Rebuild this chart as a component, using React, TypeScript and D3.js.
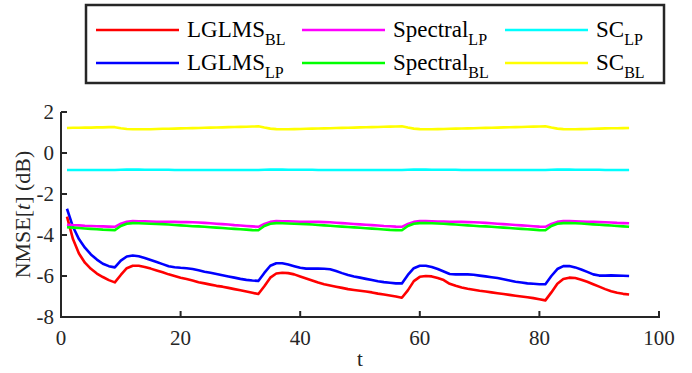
import * as d3 from 'd3'

// time steps and NMSE curves (dB)
const steps = d3.range(1, 96)

const lglmsBL = [
  -3.10, -4.20, -4.90, -5.35, -5.65, -5.88, -6.05, -6.20, -6.31, -5.95,
  -5.62, -5.50, -5.50, -5.56, -5.64, -5.73, -5.82, -5.92, -6.00, -6.08,
  -6.15, -6.22, -6.30, -6.36, -6.42, -6.48, -6.52, -6.58, -6.64, -6.70,
  -6.76, -6.82, -6.88, -6.50, -6.08, -5.88, -5.84, -5.86, -5.92, -6.02,
  -6.12, -6.22, -6.32, -6.40, -6.46, -6.52, -6.58, -6.64, -6.68, -6.72,
  -6.76, -6.80, -6.86, -6.90, -6.95, -7.00, -7.06, -6.70, -6.25, -6.04,
  -6.00, -6.02, -6.10, -6.20, -6.38, -6.48, -6.56, -6.62, -6.67, -6.72,
  -6.76, -6.80, -6.84, -6.88, -6.92, -6.96, -7.00, -7.04, -7.08, -7.13,
  -7.19, -6.80, -6.38, -6.15, -6.08, -6.10, -6.18, -6.28, -6.40, -6.52,
  -6.64, -6.74, -6.82, -6.87, -6.90,
]

const lglmsLP = [
  -2.72, -3.60, -4.20, -4.62, -4.95, -5.20, -5.40, -5.52, -5.58, -5.25,
  -5.05, -5.00, -5.04, -5.12, -5.22, -5.32, -5.42, -5.52, -5.57, -5.60,
  -5.62, -5.66, -5.72, -5.79, -5.84, -5.90, -5.96, -6.02, -6.08, -6.14,
  -6.19, -6.22, -6.24, -5.85, -5.50, -5.38, -5.38, -5.44, -5.52, -5.60,
  -5.64, -5.64, -5.64, -5.65, -5.67, -5.76, -5.86, -5.95, -6.02, -6.08,
  -6.14, -6.20, -6.26, -6.30, -6.33, -6.36, -6.36, -5.95, -5.62, -5.50,
  -5.50, -5.56, -5.66, -5.78, -5.90, -5.92, -5.92, -5.92, -5.94, -5.98,
  -6.02, -6.06, -6.10, -6.16, -6.22, -6.28, -6.32, -6.36, -6.38, -6.40,
  -6.40, -6.00, -5.66, -5.52, -5.51, -5.58, -5.68, -5.80, -5.92, -5.98,
  -5.98, -5.97, -5.98, -5.99, -6.00,
]

const spectralLP = [
  -3.50, -3.52, -3.53, -3.55, -3.56, -3.57, -3.58, -3.59, -3.60, -3.45,
  -3.35, -3.32, -3.33, -3.33, -3.34, -3.35, -3.35, -3.36, -3.36, -3.37,
  -3.37, -3.38, -3.39, -3.41, -3.43, -3.45, -3.47, -3.49, -3.52, -3.54,
  -3.56, -3.58, -3.60, -3.46, -3.36, -3.32, -3.33, -3.33, -3.34, -3.35,
  -3.35, -3.36, -3.36, -3.37, -3.38, -3.40, -3.42, -3.44, -3.46, -3.48,
  -3.50, -3.52, -3.54, -3.56, -3.57, -3.59, -3.60, -3.46, -3.36, -3.32,
  -3.32, -3.33, -3.34, -3.34, -3.35, -3.35, -3.36, -3.37, -3.38, -3.39,
  -3.41, -3.43, -3.45, -3.47, -3.49, -3.51, -3.53, -3.55, -3.57, -3.59,
  -3.60, -3.46, -3.36, -3.32, -3.32, -3.33, -3.34, -3.35, -3.36, -3.37,
  -3.38, -3.39, -3.41, -3.42, -3.43,
]

const spectralBL = [
  -3.62, -3.64, -3.66, -3.68, -3.70, -3.72, -3.74, -3.75, -3.76, -3.56,
  -3.45, -3.42, -3.43, -3.44, -3.45, -3.46, -3.47, -3.49, -3.51, -3.53,
  -3.55, -3.57, -3.58, -3.60, -3.62, -3.64, -3.66, -3.68, -3.70, -3.72,
  -3.74, -3.76, -3.77, -3.56, -3.45, -3.42, -3.43, -3.44, -3.45, -3.46,
  -3.47, -3.49, -3.51, -3.53, -3.55, -3.57, -3.59, -3.61, -3.63, -3.65,
  -3.67, -3.69, -3.71, -3.73, -3.75, -3.76, -3.77, -3.56, -3.45, -3.42,
  -3.42, -3.43, -3.44, -3.45, -3.47, -3.49, -3.51, -3.53, -3.55, -3.57,
  -3.58, -3.60, -3.62, -3.64, -3.66, -3.68, -3.70, -3.72, -3.74, -3.76,
  -3.77, -3.56, -3.45, -3.42, -3.42, -3.43, -3.44, -3.46, -3.48, -3.50,
  -3.52, -3.54, -3.56, -3.58, -3.60,
]

const scLP = [
  -0.83, -0.83, -0.83, -0.83, -0.83, -0.83, -0.83, -0.83, -0.83, -0.82,
  -0.81, -0.81, -0.81, -0.82, -0.82, -0.82, -0.82, -0.82, -0.83, -0.83,
  -0.83, -0.83, -0.83, -0.83, -0.83, -0.83, -0.83, -0.83, -0.83, -0.83,
  -0.83, -0.83, -0.83, -0.82, -0.81, -0.81, -0.81, -0.82, -0.82, -0.82,
  -0.82, -0.82, -0.83, -0.83, -0.83, -0.83, -0.83, -0.83, -0.83, -0.83,
  -0.83, -0.83, -0.83, -0.83, -0.83, -0.83, -0.83, -0.82, -0.81, -0.81,
  -0.81, -0.82, -0.82, -0.82, -0.82, -0.82, -0.83, -0.83, -0.83, -0.83,
  -0.83, -0.83, -0.83, -0.83, -0.83, -0.83, -0.83, -0.83, -0.83, -0.83,
  -0.83, -0.82, -0.81, -0.81, -0.81, -0.82, -0.82, -0.82, -0.82, -0.82,
  -0.83, -0.83, -0.83, -0.83, -0.83,
]

const scBL = [
  1.22, 1.23, 1.23, 1.24, 1.24, 1.25, 1.25, 1.26, 1.26, 1.21,
  1.17, 1.16, 1.155, 1.155, 1.16, 1.17, 1.18, 1.185, 1.19, 1.20,
  1.21, 1.215, 1.22, 1.23, 1.24, 1.245, 1.25, 1.26, 1.27, 1.275,
  1.28, 1.29, 1.30, 1.24, 1.19, 1.165, 1.16, 1.16, 1.165, 1.17,
  1.18, 1.19, 1.195, 1.20, 1.21, 1.22, 1.225, 1.23, 1.24, 1.25,
  1.255, 1.26, 1.27, 1.28, 1.285, 1.29, 1.30, 1.24, 1.19, 1.165,
  1.16, 1.16, 1.165, 1.17, 1.18, 1.19, 1.195, 1.20, 1.21, 1.22,
  1.225, 1.23, 1.24, 1.25, 1.255, 1.26, 1.27, 1.28, 1.285, 1.29,
  1.30, 1.24, 1.19, 1.165, 1.16, 1.16, 1.165, 1.17, 1.18, 1.19,
  1.20, 1.205, 1.21, 1.215, 1.22,
]

const xTicks = [0, 20, 40, 60, 80, 100]
const yTicks = [-8, -6, -4, -2, 0, 2]

// legend order: row-major, 3 columns
const series = [
  { name: 'LGLMS', sub: 'BL', color: '#ff0000', values: lglmsBL },
  { name: 'Spectral', sub: 'LP', color: '#ff00ff', values: spectralLP },
  { name: 'SC', sub: 'LP', color: '#00ffff', values: scLP },
  { name: 'LGLMS', sub: 'LP', color: '#0000ff', values: lglmsLP },
  { name: 'Spectral', sub: 'BL', color: '#00ff00', values: spectralBL },
  { name: 'SC', sub: 'BL', color: '#ffff00', values: scBL },
]

// draw order so the plot stacks like the original
const drawOrder = [5, 2, 3, 0, 1, 4]

const W = 692
const H = 373
const plot = { left: 61, right: 659, top: 112, bottom: 317 }
const axisColor = '#262626'
const font = "'Liberation Serif', 'Times New Roman', serif"

const x = d3.scaleLinear().domain([0, 100]).range([plot.left, plot.right])
const y = d3.scaleLinear().domain([-8, 2]).range([plot.bottom, plot.top])

const line = d3.line<number>()
  .x((_, i) => x(steps[i]))
  .y(d => y(d))

const legendBox = { x: 86, y: 5, w: 578, h: 78 }
const legendCols = [96, 302, 505]
const legendRows = [30, 63]
const legendLineLen = 83

const App = () => {
  return (
    <svg width={W} height={H}
      style={{ position: 'absolute', left: 0, top: 0, background: '#fff', fontFamily: font }}>
      {/* curves */}
      {drawOrder.map(k => (
        <path key={k} d={line(series[k].values) ?? ''} fill="none"
          stroke={series[k].color} strokeWidth={2.6} strokeLinejoin="round" />
      ))}

      {/* axes: left and bottom only, ticks inward */}
      <g stroke={axisColor} strokeWidth={2} fill="none">
        <line x1={plot.left} x2={plot.left} y1={plot.top} y2={plot.bottom + 1} />
        <line x1={plot.left - 1} x2={plot.right + 1} y1={plot.bottom} y2={plot.bottom} />
        {xTicks.map(t => (
          <line key={t} x1={x(t)} x2={x(t)} y1={plot.bottom} y2={plot.bottom - 6} />
        ))}
        {yTicks.map(t => (
          <line key={t} x1={plot.left} x2={plot.left + 6} y1={y(t)} y2={y(t)} />
        ))}
      </g>
      <g fill={axisColor} style={{ fontSize: '21px', fontFamily: font }}>
        {xTicks.map(t => (
          <text key={t} x={x(t)} y={plot.bottom + 28} textAnchor="middle">{t}</text>
        ))}
        {yTicks.map(t => (
          <text key={t} x={plot.left - 7} y={y(t)} dy="0.35em" textAnchor="end">{t}</text>
        ))}
        <text x={(plot.left + plot.right) / 2} y={plot.bottom + 49} textAnchor="middle">t</text>
        <text transform={`translate(30,${(plot.top + plot.bottom) / 2}) rotate(-90)`}
          textAnchor="middle" style={{ fontSize: '22px' }}>
          NMSE[<tspan fontStyle="italic">t</tspan>] (dB)
        </text>
      </g>

      {/* legend */}
      <rect x={legendBox.x} y={legendBox.y} width={legendBox.w} height={legendBox.h}
        fill="#fff" stroke={axisColor} strokeWidth={2.5} />
      {series.map((s, i) => {
        const cx = legendCols[i % 3]
        const cy = legendRows[Math.floor(i / 3)]
        return (
          <g key={i}>
            <line x1={cx} x2={cx + legendLineLen} y1={cy} y2={cy} stroke={s.color} strokeWidth={2.6} />
            <text x={cx + legendLineLen + 8} y={cy} dy="0.3em" fill="#000"
              style={{ fontSize: '23px', fontFamily: font }}>
              {s.name}
              <tspan style={{ fontSize: '16px' }} dy={8}>{s.sub}</tspan>
            </text>
          </g>
        )
      })}
    </svg>
  )
}

export default App
